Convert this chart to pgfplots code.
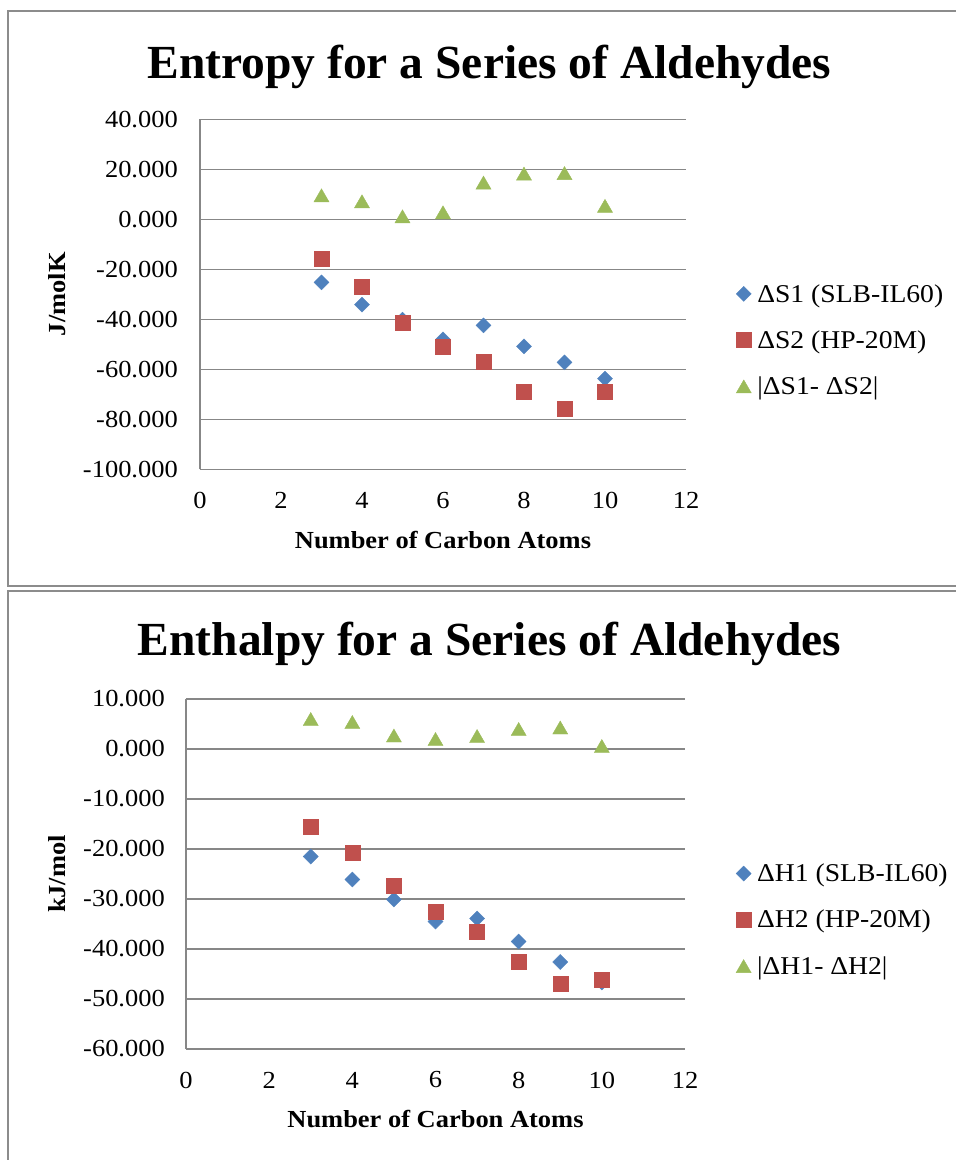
\documentclass[border=0pt]{standalone}
\usepackage{fontspec}
\setmainfont{Liberation Serif}[FakeStretch=1.08]
\newfontfamily\titlefont{Liberation Serif}
\usepackage{pgfplots}
\pgfplotsset{compat=1.18}
\definecolor{sblue}{HTML}{4F81BD}
\definecolor{sred}{HTML}{C0504D}
\definecolor{sgreen}{HTML}{9BBB59}
\definecolor{gridgray}{HTML}{878787}
\definecolor{framegray}{HTML}{8C8C8C}

\pgfplotsset{
  excelstyle/.style={
    scale only axis, clip=false,
    anchor=south west,
    xmin=0, xmax=12, xtick={0,2,...,12},
    xticklabels={0,2,4,6,8,10,12},
    axis x line*=bottom, axis y line*=left,
    x axis line style={draw=none},
    y axis line style={gridgray, line width=1.5pt},
    major tick length=0pt,
    ymajorgrids, grid style={gridgray, line width=1.5pt},
    tick label style={font=\fontsize{24.5}{28}\selectfont},
    yticklabel style={anchor=east, inner sep=0pt, xshift=-22pt},
    xticklabel style={anchor=center, inner sep=0pt, yshift=-31pt},
    label style={font=\fontsize{24.5}{28}\selectfont\bfseries},
    legend style={draw=none, fill=none, font=\fontsize{25.6}{28}\selectfont,
      anchor=west, inner sep=0pt, row sep=25pt,
      nodes={inner sep=1pt, anchor=west},
      /tikz/every odd column/.append style={column sep=5pt}},
    legend cell align=left,
    legend image code/.code={\draw[#1] plot coordinates {(7pt,0pt)};},
  },
  dia/.style={only marks, mark=square*, mark size=5.3pt, mark options={rotate=45, fill=sblue, draw=sblue}},
  sq/.style={only marks, mark=square*, mark size=7.5pt, mark options={fill=sred, draw=sred}},
  tri/.style={only marks, mark=triangle*, mark size=8.7pt, mark options={fill=sgreen, draw=sgreen, yshift=-2.2pt}},
}

\begin{document}
\begin{tikzpicture}[x=1pt,y=1pt]
\useasboundingbox (0,0) rectangle (956,1160);
% frames
\draw[framegray, line width=1.5pt] (8,1149) rectangle (975,574);
\draw[framegray, line width=1.5pt] (8,569) rectangle (975,-20);

% titles
\node[font=\titlefont\fontsize{47.5}{52}\selectfont\bfseries, anchor=base] at (489.5,1081) {Entropy for a Series of Aldehydes};
\node[font=\titlefont\fontsize{47.5}{52}\selectfont\bfseries, anchor=base] at (489.5,504) {Enthalpy for a Series of Aldehydes};

% top chart
\begin{axis}[excelstyle,
  at={(200pt,690.7pt)},
  width=486pt, height=350pt,
  ymin=-100, ymax=40,
  ytick={-100,-80,...,40},
  yticklabels={-100.000,-80.000,-60.000,-40.000,-20.000,0.000,20.000,40.000},
  xlabel={Number of Carbon Atoms},
  xlabel style={at={(axis description cs:0.5,-0.202)}, anchor=center},
  ylabel={J/molK},
  ylabel style={at={(axis description cs:-0.294,0.5)}, anchor=center},
  legend style={at={(axis description cs:1.103,0.369)}},
]
\addplot[dia] coordinates {(3,-25.2)(4,-34.1)(5,-40.1)(6,-48.0)(7,-42.4)(8,-50.8)(9,-57.2)(10,-63.7)};
\addlegendentry{ΔS1 (SLB-IL60)}
\addplot[sq] coordinates {(3,-15.6)(4,-26.9)(5,-41.3)(6,-50.8)(7,-57.1)(8,-69.1)(9,-75.7)(10,-69.1)};
\addlegendentry{ΔS2 (HP-20M)}
\addplot[tri] coordinates {(3,9.6)(4,7.2)(5,1.2)(6,2.8)(7,14.7)(8,18.3)(9,18.5)(10,5.4)};
\addlegendentry{|ΔS1- ΔS2|}
\end{axis}

% bottom chart
\begin{axis}[excelstyle,
  at={(186pt,111pt)},
  width=499pt, height=350pt,
  ymin=-60, ymax=10,
  ytick={-60,-50,...,10},
  yticklabels={-60.000,-50.000,-40.000,-30.000,-20.000,-10.000,0.000,10.000},
  yticklabel style={xshift=1pt},
  xlabel={Number of Carbon Atoms},
  xlabel style={at={(axis description cs:0.5,-0.2)}, anchor=center},
  ylabel={kJ/mol},
  ylabel style={at={(axis description cs:-0.2585,0.5)}, anchor=center},
  legend style={at={(axis description cs:1.102,0.369)}},
]
\addplot[dia] coordinates {(3,-21.5)(4,-26.1)(5,-30.1)(6,-34.5)(7,-33.9)(8,-38.5)(9,-42.6)(10,-46.7)};
\addlegendentry{ΔH1 (SLB-IL60)}
\addplot[sq] coordinates {(3,-15.5)(4,-20.7)(5,-27.4)(6,-32.5)(7,-36.5)(8,-42.5)(9,-46.9)(10,-46.1)};
\addlegendentry{ΔH2 (HP-20M)}
\addplot[tri] coordinates {(3,6.0)(4,5.4)(5,2.7)(6,2.0)(7,2.6)(8,4.0)(9,4.3)(10,0.6)};
\addlegendentry{|ΔH1- ΔH2|}
\end{axis}
\end{tikzpicture}
\end{document}
